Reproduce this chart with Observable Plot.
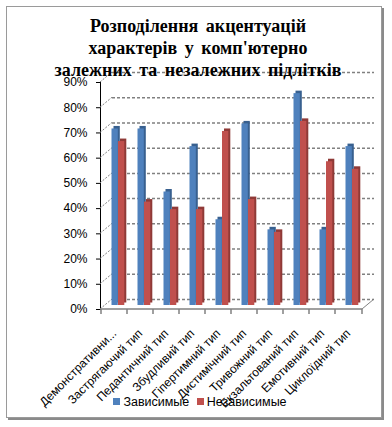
<!DOCTYPE html>
<html>
<head>
<meta charset="utf-8">
<script src="https://cdn.jsdelivr.net/npm/d3@7"></script>
<script src="https://cdn.jsdelivr.net/npm/@observablehq/plot@0.6"></script>
<style>
  html, body { margin: 0; padding: 0; background: #fff; }
  #wrap { position: relative; width: 392px; height: 427px; overflow: hidden; }
  #frame { position: absolute; left: 6px; top: 6px; width: 374px; height: 410px;
           border: 1px solid #9a9a9a; box-shadow: 2px 2px 0 #8a8a8a; }
  #title { position: absolute; left: 0; top: 15px; width: 396px; text-align: center;
           font-family: "Liberation Serif", "Times New Roman", serif; font-weight: bold;
           font-size: 18px; line-height: 22px; color: #000; word-spacing: 3px; z-index: 2; }
  #chart { position: absolute; left: 0; top: 0; }
  #legend { position: absolute; left: 0; top: 395px; width: 400px; text-align: center;
            font-family: "Liberation Sans", Arial, sans-serif; font-size: 12.5px; color: #000; }
  #legend span.sw { display: inline-block; width: 7px; height: 7px; margin-right: 3px; vertical-align: 1px; }
  #legend span.item { margin: 0 2px; }
</style>
</head>
<body>
<div id="wrap">
  <div id="frame"></div>
  <div id="chart"></div>
  <div id="title"></div>
  <div id="legend"></div>
</div>
<script>
const titleLines = ["Розподілення акцентуацій", "характерів у комп'ютерно", "залежних та незалежних підлітків"];
const categories = ["Демонстративни...", "Застрягаючий тип", "Педантичний тип", "Збудливий тип", "Гіпертимний тип", "Дистимічний тип", "Тривожний тип", "Екзальтований тип", "Емотивний тип", "Циклоїдний тип"];
const dependent = [70, 70, 45, 63, 34, 72, 30, 84, 30, 63];
const independent = [65, 41, 38, 38, 69, 42, 29, 73, 57, 54];
const seriesNames = ["Зависимые", "Независимые"];
const seriesColors = ["#4F81BD", "#C0504D"];
const seriesDark = ["#38608f", "#8f3a37"];
const yTicks = [0, 10, 20, 30, 40, 50, 60, 70, 80, 90];

const depData = categories.map((c, i) => ({cat: c, v: dependent[i]}));
const indData = categories.map((c, i) => ({cat: c, v: independent[i]}));

document.getElementById("title").innerHTML = titleLines.join("<br>");
document.getElementById("legend").innerHTML = seriesNames.map((n, i) =>
  `<span class="item"><span class="sw" style="background:${seriesColors[i]}"></span>${n}</span>`).join(" ");

const gray = "#808080";

// 3D decoration: diagonal connectors, floor edge, category boundary ticks
function decor(index, scales, values, dims) {
  const x = scales.x, y = scales.y;
  const left = dims.marginLeft, right = dims.width - dims.marginRight;
  const base = dims.height - dims.marginBottom;
  const g = d3.create("svg:g").attr("fill", "none").attr("stroke", gray);
  g.selectAll("path.diag").data(yTicks).join("path")
    .attr("d", t => `M${left},${y(t)}l12,-10`)
    .attr("stroke-dasharray", "2,1.5");
  g.append("path").attr("d", `M${right},${base}l12,-10`);
  g.append("path").attr("d", `M${left},${base}H${right}`).attr("stroke-width", 1.5);
  const bounds = categories.map(c => x(c)).concat([right]);
  g.selectAll("path.tk").data(bounds).join("path")
    .attr("d", b => `M${b},${base}v5`).attr("stroke-width", 1.5);
  return g.node();
}

const chart = Plot.plot({
  width: 392,
  height: 427,
  marginLeft: 100,
  marginRight: 30,
  marginTop: 82,
  marginBottom: 118,
  style: {fontFamily: "'Liberation Sans', Arial, sans-serif", fontSize: "12px", color: "#000", background: "transparent", overflow: "visible"},
  x: {domain: categories, padding: 0, tickSize: 0, tickRotate: -45, tickPadding: 22, label: null},
  y: {domain: [0, 90], ticks: yTicks, tickFormat: d => d + "%", tickSize: 4, tickPadding: 9, label: null, line: true},
  marks: [
    Plot.ruleY(yTicks, {dx: 12, dy: -10, stroke: gray, strokeWidth: 1.5, strokeDasharray: "3,2"}),
    decor,
    Plot.barY(depData, {x: "cat", y: "v", fill: seriesDark[0], insetLeft: 12.5, insetRight: 7.2, dy: -6.5}),
    Plot.barY(depData, {x: "cat", y: "v", fill: seriesColors[0], insetLeft: 10.5, insetRight: 9.2, dy: -4}),
    Plot.barY(indData, {x: "cat", y: "v", fill: seriesDark[1], insetLeft: 19, insetRight: 0.7, dy: -6.5}),
    Plot.barY(indData, {x: "cat", y: "v", fill: seriesColors[1], insetLeft: 17, insetRight: 2.7, dy: -4})
  ]
});
document.getElementById("chart").appendChild(chart);
</script>
</body>
</html>
